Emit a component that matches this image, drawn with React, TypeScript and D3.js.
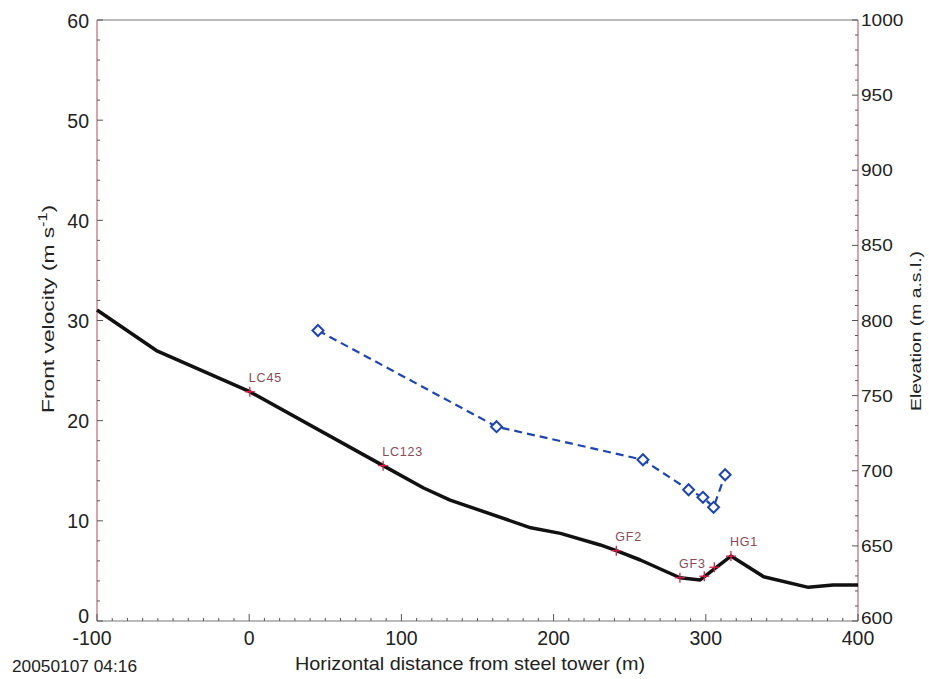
import React from "react";
import * as d3 from "d3";

// Terrain profile (right axis, elevation m a.s.l.)
const terrainX = [-100, -61, 0.4, 88, 114.6, 132, 185, 204.5, 230.7, 241.2, 257, 283, 296.3, 316.5, 338, 367.4, 383.6, 400];
const terrainElev = [807, 780, 752.6, 703.4, 688.5, 680.5, 662, 658.3, 650.6, 646.8, 640.6, 628.8, 627.3, 643.2, 629.5, 622.4, 624, 624];

// Station markers along the profile
const stationX = [0.4, 88, 241.2, 283, 299, 305.6, 316.5];
const stationElev = [752.6, 703.4, 646.8, 628.8, 629.8, 635.8, 643.2];
const stationNames = ["LC45", "LC123", "GF2", "GF3", "", "", "HG1"];

// Front velocity (left axis)
const velX = [45.2, 162.5, 258.7, 288.7, 298.1, 305.1, 312.7];
const velY = [29.0, 19.4, 16.1, 13.1, 12.35, 11.35, 14.6];

const xTicks = [-100, 0, 100, 200, 300, 400];
const leftTicks = [0, 10, 20, 30, 40, 50, 60];
const rightTicks = [600, 650, 700, 750, 800, 850, 900, 950, 1000];

const W = 929, H = 679;
const L = 97, R = 858, T = 20, B = 621;

export default function App() {
  const x = d3.scaleLinear().domain([-100, 400]).range([L, R]);
  const yV = d3.scaleLinear().domain([0, 60]).range([B, T]);
  const yE = d3.scaleLinear().domain([600, 1000]).range([B, T]);

  const terrainLine = d3.line<number>().x((_, i) => x(terrainX[i])).y((d) => yE(d));
  const velLine = d3.line<number>().x((_, i) => x(velX[i])).y((d) => yV(d));

  const font = "Liberation Sans, Arial, sans-serif";
  const spine = "#c48a98";
  const minorX = d3.range(-100, 401, 10);
  const minorL = d3.range(0, 61, 2);
  const minorR = d3.range(600, 1001, 10);

  return (
    <svg width={W} height={H} style={{ position: "absolute", left: 0, top: 0, background: "#fff" }} fontFamily={font}>
      <rect x={0} y={0} width={W} height={H} fill="#fff" />
      {/* frame */}
      <line x1={L} x2={R} y1={T} y2={T} stroke="#777" strokeWidth={1} />
      <line x1={L} x2={R} y1={B} y2={B} stroke="#777" strokeWidth={1} />
      <line x1={L} x2={L} y1={T} y2={B} stroke={spine} strokeWidth={1.5} />
      <line x1={R} x2={R} y1={T} y2={B} stroke={spine} strokeWidth={1.5} />

      {/* bottom ticks */}
      {minorX.map((v) => (
        <line key={"bx" + v} x1={x(v)} x2={x(v)} y1={B} y2={B - (v % 100 === 0 ? 7 : 3)} stroke="#555" strokeWidth={1} />
      ))}
      {xTicks.map((v) => (
        <text key={"xl" + v} x={x(v) - (v === -100 ? 5 : 0)} y={645} fontSize={19.5} textAnchor="middle" fill="#222">{v}</text>
      ))}
      {/* left ticks */}
      {minorL.map((v) => (
        <line key={"lt" + v} x1={L} x2={L + (v % 10 === 0 ? 6 : 3)} y1={yV(v)} y2={yV(v)} stroke="#555" strokeWidth={1} />
      ))}
      {leftTicks.map((v) => (
        <text key={"ll" + v} x={89} y={yV(v) + (v === 0 ? 2 : 7.5)} fontSize={19.5} textAnchor="end" fill="#222">{v}</text>
      ))}
      {/* right ticks */}
      {minorR.map((v) => (
        <line key={"rt" + v} x1={R} x2={R - (v % 50 === 0 ? 6 : 3)} y1={yE(v)} y2={yE(v)} stroke="#555" strokeWidth={1} />
      ))}
      {rightTicks.map((v) => {
        const s = String(v);
        return (
          <text key={"rl" + v} x={861} y={yE(v) + (v === 600 ? 3 : 6)} fontSize={16} textAnchor="start" fill="#222"
            textLength={s.length * 10.6} lengthAdjust="spacingAndGlyphs">{s}</text>
        );
      })}

      {/* axis titles */}
      <text transform={`translate(54,309) rotate(-90)`} fontSize={17} textAnchor="middle" fill="#222"
        textLength={208} lengthAdjust="spacingAndGlyphs">
        Front velocity (m s<tspan fontSize={12} dy={-7}>-1</tspan><tspan dy={7}>)</tspan>
      </text>
      <text transform={`translate(921,331) rotate(-90)`} fontSize={15} textAnchor="middle" fill="#222"
        textLength={160} lengthAdjust="spacingAndGlyphs">
        Elevation (m a.s.l.)
      </text>
      <text x={470} y={670} fontSize={18.5} textAnchor="middle" fill="#222"
        textLength={350} lengthAdjust="spacingAndGlyphs">Horizontal distance from steel tower (m)</text>
      <text x={12} y={672} fontSize={17} fill="#222" textLength={125} lengthAdjust="spacingAndGlyphs">20050107 04:16</text>

      {/* terrain */}
      <path d={terrainLine(terrainElev) || ""} fill="none" stroke="#111" strokeWidth={3.5} strokeLinejoin="round" />

      {/* station markers */}
      {stationX.map((sx, i) => {
        const px = x(sx), py = yE(stationElev[i]);
        return (
          <g key={"st" + i}>
            <line x1={px - 5} x2={px + 5} y1={py} y2={py} stroke="#d8204a" strokeWidth={1.3} />
            <line x1={px} x2={px} y1={py - 5} y2={py + 5} stroke="#d8204a" strokeWidth={1.3} />
            {stationNames[i] && (
              <text x={px - 1} y={py - 10} fontSize={12.5} fill="#8a4a55" letterSpacing={0.8}>{stationNames[i]}</text>
            )}
          </g>
        );
      })}

      {/* velocity */}
      <path d={velLine(velY) || ""} fill="none" stroke="#1f45b0" strokeWidth={2.2} strokeDasharray="8,5" />
      {velX.map((vx, i) => {
        const px = x(vx), py = yV(velY[i]);
        return (
          <path key={"v" + i} d={`M${px},${py - 5.5}L${px + 5.5},${py}L${px},${py + 5.5}L${px - 5.5},${py}Z`}
            fill="#fff" stroke="#1f45b0" strokeWidth={2} />
        );
      })}
    </svg>
  );
}
